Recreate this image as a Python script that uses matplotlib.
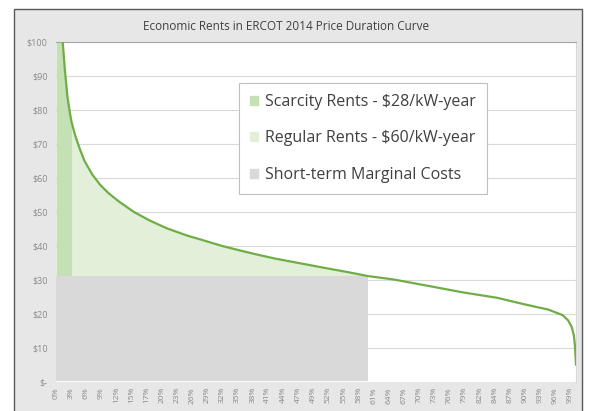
import numpy as np
import matplotlib.pyplot as plt
from matplotlib.patches import Rectangle, Patch

plt.rcParams['font.family'] = ['Open Sans', 'DejaVu Sans']

# price duration curve (share of hours, $/MWh)
hours = [0.000, 0.013, 0.017, 0.022, 0.027, 0.030, 0.037, 0.046, 0.055, 0.070,
         0.085, 0.100, 0.120, 0.150, 0.180, 0.213, 0.253, 0.280, 0.319, 0.350,
         0.385, 0.420, 0.451, 0.517, 0.560, 0.600, 0.649, 0.716, 0.782, 0.848,
         0.900, 0.947, 0.974, 0.985, 0.992, 0.996, 0.998, 1.000]
price = [130.0, 100.0, 92.0, 84.0, 79.0, 76.5, 72.5, 68.5, 65.0, 61.0,
         58.0, 55.7, 53.2, 50.0, 47.5, 45.2, 43.0, 41.8, 40.0, 38.8,
         37.5, 36.3, 35.4, 33.5, 32.3, 31.1, 30.1, 28.2, 26.3, 24.7,
         22.8, 21.2, 19.6, 18.0, 16.0, 13.5, 10.5, 5.0]

marginal_cost = 31.1
scarcity_end = 0.030
regular_end = 0.600

labels = ['Scarcity Rents - $28/kW-year', 'Regular Rents - $60/kW-year',
          'Short-term Marginal Costs']
xtick_labels = ['0%', '3%', '6%', '9%', '12%', '15%', '17%', '20%', '23%', '26%',
                '29%', '32%', '35%', '38%', '41%', '44%', '47%', '49%', '52%', '55%',
                '58%', '61%', '64%', '67%', '70%', '73%', '76%', '79%', '82%', '84%',
                '87%', '90%', '93%', '96%', '99%']
ytick_labels = ['$-', '$10', '$20', '$30', '$40', '$50', '$60', '$70', '$80', '$90', '$100']

c_scar = '#c5e0b4'
c_reg = '#e2f0d9'
c_gray = '#d9d9d9'
c_line = '#70ad47'

x = np.array(hours)
y = np.array(price)

fig = plt.figure(figsize=(5.89, 4.11), dpi=100)
fig.patch.set_facecolor('white')
fig.patches.append(Rectangle((14 / 589, -0.02), 568 / 589, 1.02 - 9 / 411,
                             transform=fig.transFigure, facecolor='#e8e7e7',
                             edgecolor='#595959', linewidth=1.0, zorder=-10))

ax = fig.add_axes([56 / 589, 29.5 / 411, 520 / 589, 339 / 411])
ax.set_facecolor('white')
ax.set_axisbelow(True)

ax.fill_between(x, marginal_cost, y, where=x <= scarcity_end, color=c_scar, lw=0, interpolate=True)
ax.fill_between(x, marginal_cost, y, where=(x >= scarcity_end) & (x <= regular_end),
                color=c_reg, lw=0, interpolate=True)
ax.fill_between([0, regular_end], 0, marginal_cost, color=c_gray, lw=0)
ax.plot(x, y, color=c_line, lw=1.6, zorder=3)

ax.set_xlim(0, 1.0)
ax.set_ylim(0, 100)
ax.set_yticks(np.arange(0, 101, 10))
ax.set_yticklabels(ytick_labels, fontsize=6.5, color='#8a8a8a')
ax.set_xticks([k * 0.0291 for k in range(len(xtick_labels))])
ax.set_xticklabels(xtick_labels, rotation=90, fontsize=6, color='#8a8a8a')
ax.tick_params(length=0, pad=6)
ax.tick_params(axis='x', pad=4)
ax.grid(axis='y', color='#d9d9d9', lw=0.8)
for s in ['left', 'bottom']:
    ax.spines[s].set_visible(False)
ax.spines['top'].set_color('#a6a6a6')
ax.spines['right'].set_color('#d9d9d9')

handles = [Patch(color=c_scar), Patch(color=c_reg), Patch(color=c_gray)]
leg = ax.legend(handles, labels, loc='upper left', bbox_to_anchor=(0.352, 0.881),
                borderaxespad=0, fontsize=11.5, frameon=True, fancybox=False,
                framealpha=1, edgecolor='#bfbfbf', handlelength=0.5,
                handleheight=0.5, handletextpad=0.45, labelspacing=1.28,
                borderpad=0.7, labelcolor='#404040')
leg.get_frame().set_linewidth(0.8)

fig.text(0.485, 1 - 26 / 411, 'Economic Rents in ERCOT 2014 Price Duration Curve',
         ha='center', va='center', fontsize=8.5, color='#404040')

fig.savefig('out.png', dpi=100)
